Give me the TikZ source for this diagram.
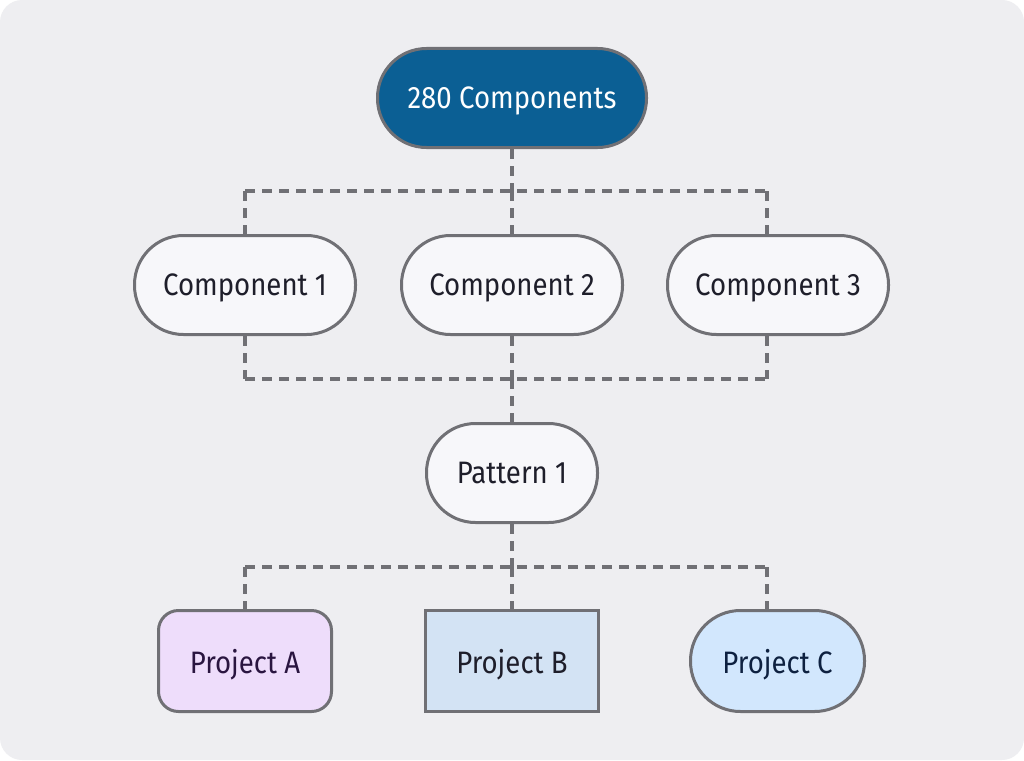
\documentclass[tikz,border=0pt]{standalone}
\usepackage{fontspec}
\setmainfont{Fira Sans}[FakeStretch=0.89]
\pgfdeclarelayer{bg}
\pgfsetlayers{bg,main}
\definecolor{pagebg}{HTML}{EEEEF1}
\definecolor{edgegray}{HTML}{707075}
\definecolor{topblue}{HTML}{0B5F94}
\definecolor{boxwhite}{HTML}{F7F7FA}
\definecolor{txtdark}{HTML}{1E1E2A}
\definecolor{lilac}{HTML}{EEDDFB}
\definecolor{lilactxt}{HTML}{2A1540}
\definecolor{paleblue}{HTML}{D3E3F4}
\definecolor{skyblue}{HTML}{D2E7FD}
\definecolor{navytxt}{HTML}{0E2140}
\tikzset{
  box/.style={draw=edgegray, line width=3pt, inner sep=0pt, align=center,
    font=\fontsize{31}{36}\selectfont, text=txtdark, text depth=0pt},
  pill/.style={box, rounded corners=49pt, minimum height=99pt, fill=boxwhite},
  link/.style={draw=edgegray, line width=3.3pt, dash pattern=on 10pt off 7pt},
}
\begin{document}
\begin{tikzpicture}[x=1pt,y=-1pt]
\useasboundingbox (0,0) rectangle (1024,760);
\begin{pgfonlayer}{bg}
\fill[white] (0,0) rectangle (1024,760);
\fill[pagebg, rounded corners=22pt] (0,0) rectangle (1024,760);
\end{pgfonlayer}

\node[pill, fill=topblue, text=white, minimum width=269pt] (top) at (512,98) {280 Components};
\node[pill, minimum width=221pt] (c1) at (245,285) {Component 1};
\node[pill, minimum width=221pt] (c2) at (512,285) {Component 2};
\node[pill, minimum width=221pt] (c3) at (778,285) {Component 3};
\node[pill, minimum width=171pt] (pat) at (512,473) {Pattern 1};
\node[box, fill=lilac, text=lilactxt, rounded corners=20pt, minimum width=173pt, minimum height=101pt] (pa) at (245,661) {Project A};
\node[box, fill=paleblue, minimum width=173pt, minimum height=101pt] (pb) at (512,661) {Project B};
\node[box, fill=skyblue, text=navytxt, rounded corners=50pt, minimum width=174pt, minimum height=101pt] (pc) at (777.5,661) {Project C};

\coordinate (j1L) at (245,191);
\coordinate (j1M) at (512,191);
\coordinate (j1R) at (767,191);
\coordinate (j2L) at (245,379);
\coordinate (j2M) at (512,379);
\coordinate (j2R) at (767,379);
\coordinate (j3L) at (245,567);
\coordinate (j3M) at (512,567);
\coordinate (j3R) at (767,567);

\begin{pgfonlayer}{bg}
\draw[link] (top.south) -- (j1M);
\draw[link] (j1L) -- (j1R);
\draw[link] (j1L) -- (c1.north);
\draw[link] (j1M) -- (c2.north);
\draw[link] (j1R) -- (j1R |- c3.north);
\draw[link] (c1.south) -- (j2L);
\draw[link] (c2.south) -- (j2M);
\draw[link] (j2R |- c3.south) -- (j2R);
\draw[link] (j2L) -- (j2R);
\draw[link] (j2M) -- (pat.north);
\draw[link] (pat.south) -- (j3M);
\draw[link] (j3L) -- (j3R);
\draw[link] (j3L) -- (pa.north);
\draw[link] (j3M) -- (pb.north);
\draw[link] (j3R) -- (j3R |- pc.north);
\end{pgfonlayer}
\end{tikzpicture}
\end{document}
